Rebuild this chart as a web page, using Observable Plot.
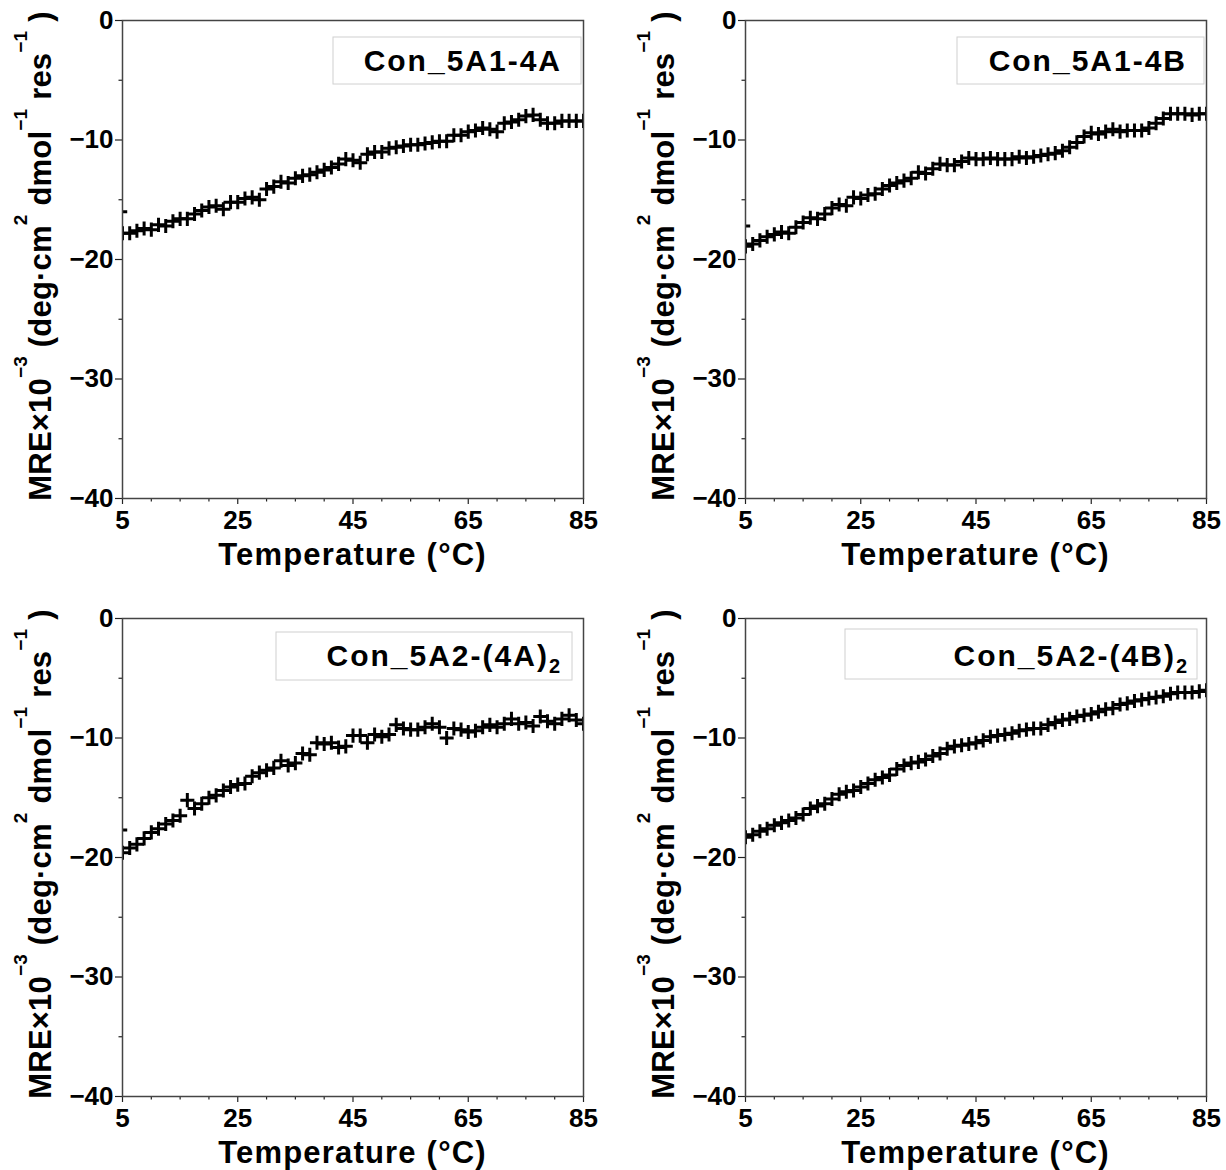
<!DOCTYPE html>
<html><head><meta charset="utf-8">
<script src="https://cdn.jsdelivr.net/npm/d3@7"></script>
<script src="https://cdn.jsdelivr.net/npm/@observablehq/plot@0.6"></script>
<style>
html,body{margin:0;padding:0;background:#fff;overflow:hidden;}
#wrap{position:relative;width:1226px;height:1170px;overflow:hidden;background:#fff;}
#wrap svg{position:absolute;}
</style></head><body><div id="wrap"></div>
<script>
// ---------- data ----------
const temps = [5, 6.25, 7.5, 8.75, 10, 11.25, 12.5, 13.75, 15, 16.25, 17.5, 18.75, 20, 21.25, 22.5, 23.75,
  25, 26.25, 27.5, 28.75, 30, 31.25, 32.5, 33.75, 35, 36.25, 37.5, 38.75, 40, 41.25, 42.5, 43.75,
  45, 46.25, 47.5, 48.75, 50, 51.25, 52.5, 53.75, 55, 56.25, 57.5, 58.75, 60, 61.25, 62.5, 63.75,
  65, 66.25, 67.5, 68.75, 70, 71.25, 72.5, 73.75, 75, 76.25, 77.5, 78.75, 80, 81.25, 82.5, 83.75, 85];

const mre5A1_4A = [-17.8, -17.8, -17.6, -17.4, -17.5, -17.1, -17.2, -16.8, -16.6, -16.6, -16.2, -15.9, -15.6, -15.5, -15.8, -15.2,
  -15.2, -14.9, -14.8, -15.0, -14.1, -13.9, -13.5, -13.6, -13.2, -13.0, -12.9, -12.7, -12.5, -12.3, -12.0, -11.6,
  -11.7, -11.9, -11.2, -11.0, -11.0, -10.7, -10.6, -10.5, -10.4, -10.4, -10.3, -10.2, -10.1, -10.1, -9.6, -9.6,
  -9.3, -9.2, -9.0, -9.1, -9.3, -8.6, -8.5, -8.3, -8.0, -7.9, -8.3, -8.6, -8.6, -8.4, -8.4, -8.4, -8.4];

const mre5A1_4B = [-18.9, -18.7, -18.4, -18.1, -17.9, -17.7, -17.8, -17.3, -16.9, -16.5, -16.6, -16.2, -15.7, -15.4, -15.5, -14.8,
  -14.9, -14.6, -14.5, -14.1, -13.8, -13.6, -13.4, -13.2, -12.7, -12.8, -12.4, -12.0, -12.1, -12.1, -11.8, -11.5,
  -11.6, -11.6, -11.5, -11.6, -11.6, -11.6, -11.4, -11.5, -11.4, -11.3, -11.2, -11.1, -10.9, -10.6, -10.2, -9.7,
  -9.4, -9.5, -9.3, -9.1, -9.3, -9.2, -9.2, -9.2, -9.0, -8.6, -8.2, -7.8, -7.8, -7.8, -7.9, -7.8, -7.8];

const mre5A2_4A2 = [-19.6, -19.2, -18.9, -18.4, -17.9, -17.6, -17.2, -16.9, -16.5, -15.2, -15.9, -15.5, -15.0, -14.8, -14.4, -14.1,
  -13.9, -13.8, -13.2, -12.9, -12.7, -12.5, -11.9, -12.3, -12.1, -11.3, -11.4, -10.4, -10.5, -10.4, -10.8, -10.7,
  -9.8, -9.8, -10.4, -9.7, -9.9, -9.7, -8.9, -9.2, -9.3, -9.3, -9.1, -8.8, -9.1, -10.0, -9.2, -9.3,
  -9.5, -9.4, -9.1, -8.9, -9.1, -8.8, -8.4, -8.8, -8.7, -9.0, -8.2, -8.6, -8.8, -8.4, -8.1, -8.5, -8.8];

const mre5A2_4B2 = [-18.3, -18.1, -17.8, -17.6, -17.3, -17.1, -16.9, -16.7, -16.4, -15.9, -15.7, -15.5, -15.1, -14.7, -14.5, -14.4,
  -14.1, -13.8, -13.5, -13.3, -13.1, -12.6, -12.3, -12.1, -12.0, -11.8, -11.5, -11.3, -10.9, -10.7, -10.6, -10.5,
  -10.4, -10.2, -9.9, -9.8, -9.7, -9.6, -9.4, -9.3, -9.2, -9.2, -8.9, -8.7, -8.5, -8.4, -8.2, -8.1,
  -8.0, -7.8, -7.6, -7.5, -7.2, -7.1, -6.9, -6.8, -6.7, -6.6, -6.5, -6.3, -6.2, -6.2, -6.2, -6.1, -6.0];

const panelNames = ["Con_5A1-4A", "Con_5A1-4B", "Con_5A2-(4A)", "Con_5A2-(4B)"];
const panelSubs = ["", "", "2", "2"];
const firstTemp = 4.6;
const firstMRE = [-16.0, -17.2, -17.7, null];

const xMajor = [5, 25, 45, 65, 85];
const xMinor = [10, 15, 20, 30, 35, 40, 50, 55, 60, 70, 75, 80];
const yMajor = [0, -10, -20, -30, -40];
const yMinor = [-5, -15, -25, -35];
const xTitle = "Temperature (°C)";
const yTitleParts = [["MRE×10", 0], ["−3", 1], [" (deg·cm", 0], ["2", 1], [" dmol", 0], ["−1", 1], [" res", 0], ["−1", 1], [" )", 0]];

const seriesList = [mre5A1_4A, mre5A1_4B, mre5A2_4A2, mre5A2_4B2];

// ---------- layout ----------
const FONT = '"Liberation Sans", Arial, Helvetica, sans-serif';
const layouts = [
  {left: 0, top: 0, width: 613, box: [333, 37, 248, 47], textEnd: 562, base: 71},
  {left: 623, top: 0, width: 603, box: [334, 37, 247, 47], textEnd: 564, base: 71},
  {left: 0, top: 598, width: 613, box: [276, 34, 296, 48], textEnd: 562, base: 68},
  {left: 623, top: 598, width: 603, box: [222, 31, 352, 50], textEnd: 566, base: 68}
];

const wrap = document.getElementById("wrap");
const MARKER_R = 4.6;
const MARKER_W = 3;

seriesList.forEach((series, p) => {
  const L = layouts[p];
  const data = temps.map((t, i) => ({t, v: series[i]}));
  const marks = [
    Plot.axisX({ticks: xMinor, tickSize: 3.5, tickFormat: () => "", label: null, stroke: "#222", strokeWidth: 1.2}),
    Plot.axisX({ticks: xMajor, tickSize: 6, tickPadding: 6, fontSize: 26, label: null, stroke: "#222", strokeWidth: 1.2, fill: "#000"}),
    Plot.axisY({ticks: yMinor, tickSize: 3.5, tickFormat: () => "", label: null, stroke: "#222", strokeWidth: 1.2}),
    Plot.axisY({ticks: yMajor, tickSize: 7, tickPadding: 2, fontSize: 26, label: null, stroke: "#222", strokeWidth: 1.2, fill: "#000"}),
    Plot.dot(data, {x: "t", y: "v", symbol: "plus", r: MARKER_R, stroke: "#000", strokeWidth: MARKER_W, clip: true})
  ];
  if (firstMRE[p] != null) {
    marks.push(Plot.dot([{t: firstTemp, v: firstMRE[p]}], {x: "t", y: "v", symbol: "plus", r: MARKER_R, stroke: "#000", strokeWidth: MARKER_W, clip: true}));
  }
  marks.push(Plot.frame({stroke: "#444", strokeWidth: 1.5}));

  const chart = Plot.plot({
    width: L.width, height: 590,
    marginLeft: 122, marginRight: L.width - 122 - 461, marginTop: 20, marginBottom: 92,
    x: {domain: [5, 85]},
    y: {domain: [-40, 0]},
    style: {fontFamily: FONT, fontWeight: "bold", background: "transparent", overflow: "visible", color: "#000"},
    marks
  });
  chart.style.left = L.left + "px";
  chart.style.top = L.top + "px";
  wrap.appendChild(chart);

  const svg = d3.select(chart);
  // legend box
  svg.append("rect")
    .attr("x", L.box[0]).attr("y", L.box[1]).attr("width", L.box[2]).attr("height", L.box[3])
    .attr("fill", "#fff").attr("stroke", "#d0d0d0").attr("stroke-width", 1);
  const lt = svg.append("text")
    .attr("x", L.textEnd).attr("y", L.base)
    .attr("text-anchor", "end")
    .attr("letter-spacing", 2)
    .attr("font-family", FONT).attr("font-weight", "bold").attr("font-size", 30).attr("fill", "#000");
  lt.append("tspan").text(panelNames[p]);
  if (panelSubs[p]) lt.append("tspan").attr("font-size", 20).attr("dy", 7).text(panelSubs[p]);

  // x title
  svg.append("text")
    .attr("x", 122 + 230.5).attr("y", 565)
    .attr("text-anchor", "middle")
    .attr("letter-spacing", 1.2)
    .attr("font-family", FONT).attr("font-weight", "bold").attr("font-size", 31).attr("fill", "#000")
    .text(xTitle);

  // y title
  const yt = svg.append("text")
    .attr("transform", "translate(51,256) rotate(-90)")
    .attr("text-anchor", "middle")
    .attr("letter-spacing", 0.2)
    .attr("font-family", FONT).attr("font-weight", "bold").attr("font-size", 31).attr("fill", "#000");
  let off = 0;
  yTitleParts.forEach(([s, sup]) => {
    const target = sup ? -24 : 0;
    yt.append("tspan").attr("dy", target - off).attr("font-size", sup ? 19 : 31).text(s);
    off = target;
  });
});
</script>
</body></html>
